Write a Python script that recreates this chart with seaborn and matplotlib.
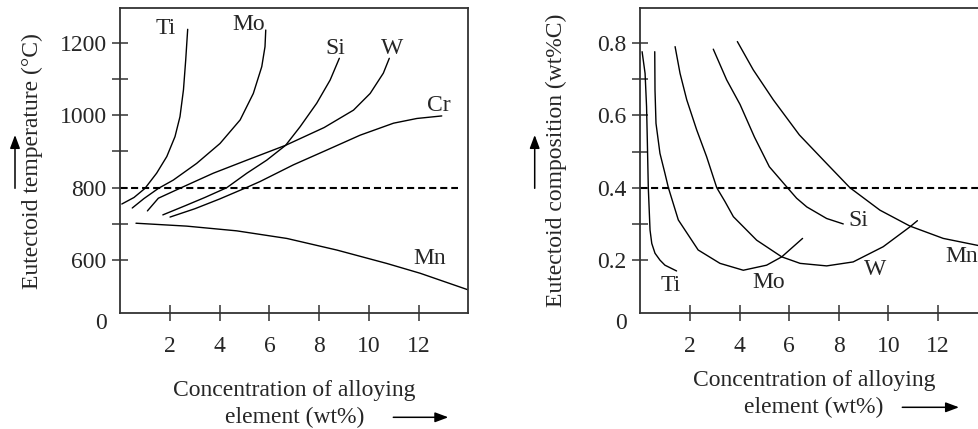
import matplotlib
matplotlib.use("Agg")
import matplotlib.pyplot as plt
import pandas as pd
import seaborn as sns

# ---- left panel: eutectoid temperature (deg C) vs alloy content (wt%) ----
temp_ti_x = [0.06, 0.55, 0.99, 1.46, 1.87, 2.20, 2.40, 2.54, 2.63, 2.71]
temp_ti_y = [755, 773, 798, 840, 886, 941, 996, 1070, 1152, 1237]
temp_mo_x = [0.48, 0.95, 1.53, 2.13, 3.07, 4.01, 4.82, 5.35, 5.69, 5.82, 5.85]
temp_mo_y = [744, 770, 798, 821, 867, 922, 987, 1060, 1134, 1189, 1235]
temp_w_x = [1.09, 1.53, 2.45, 3.74, 5.09, 6.65, 8.2, 9.38, 10.05, 10.58, 10.82]
temp_w_y = [736, 771, 800, 840, 876, 917, 966, 1014, 1060, 1116, 1157]
temp_si_x = [1.71, 2.6, 3.4, 4.28, 5.09, 5.89, 6.65, 7.23, 7.90, 8.44, 8.81]
temp_si_y = [725, 750, 773, 800, 840, 876, 917, 968, 1033, 1097, 1157]
temp_cr_x = [2.0, 3.0, 4.0, 5.06, 5.62, 6.96, 8.31, 9.65, 10.99, 11.93, 12.93]
temp_cr_y = [719, 742, 769, 800, 817, 863, 904, 945, 978, 991, 998]
temp_mn_x = [0.63, 2.67, 4.68, 6.70, 8.71, 10.72, 12.06, 14.0]
temp_mn_y = [702, 694, 681, 660, 628, 591, 564, 518]

# ---- right panel: eutectoid carbon content (wt% C) vs alloy content ----
comp_ti_x = [0.07, 0.19, 0.25, 0.28, 0.32, 0.39, 0.46, 0.59, 0.79, 0.99, 1.46]
comp_ti_y = [0.776, 0.716, 0.624, 0.532, 0.40, 0.283, 0.246, 0.219, 0.200, 0.186, 0.170]
comp_mo_x = [0.58, 0.59, 0.63, 0.79, 0.99, 1.13, 1.53, 2.33, 3.21, 4.15, 5.09, 5.70, 6.54]
comp_mo_y = [0.776, 0.670, 0.578, 0.495, 0.44, 0.40, 0.311, 0.228, 0.191, 0.172, 0.186, 0.209, 0.26]
comp_w_x = [1.40, 1.60, 1.87, 2.27, 2.67, 3.08, 3.41, 3.75, 4.69, 5.70, 6.44, 7.51, 8.58, 9.79, 10.87, 11.17]
comp_w_y = [0.79, 0.716, 0.643, 0.56, 0.486, 0.40, 0.362, 0.32, 0.255, 0.209, 0.191, 0.184, 0.195, 0.237, 0.292, 0.309]
comp_si_x = [2.94, 3.48, 4.02, 4.6, 5.2, 5.93, 6.30, 6.71, 7.51, 8.18]
comp_si_y = [0.783, 0.698, 0.63, 0.54, 0.458, 0.40, 0.371, 0.347, 0.315, 0.30]
comp_mn_x = [3.91, 4.55, 5.36, 6.41, 7.51, 8.45, 9.66, 10.87, 12.21, 13.65, 14.0]
comp_mn_y = [0.804, 0.726, 0.643, 0.546, 0.467, 0.40, 0.338, 0.294, 0.26, 0.24, 0.236]

# curve labels (x, y)
temp_labels = {"Ti": (1.83, 1240), "Mo": (5.18, 1249), "Si": (8.64, 1183),
               "W": (10.92, 1185), "Cr": (12.83, 1028), "Mn": (12.44, 606)}
comp_labels = {"Ti": (1.24, 0.131), "Mo": (5.18, 0.138), "W": (9.46, 0.174),
               "Si": (8.37, 0.309), "Mn": (12.3, 0.209)}

temp_yticks = [600, 700, 800, 900, 1000, 1100, 1200]
temp_yticklabels = ["600", "", "800", "", "1000", "", "1200"]
comp_yticks = [0.2, 0.3, 0.4, 0.5, 0.6, 0.7, 0.8]
comp_yticklabels = ["0.2", "", "0.4", "", "0.6", "", "0.8"]
xticks = [2, 4, 6, 8, 10, 12]


def long_form(curves):
    parts = []
    for name, (xs, ys) in curves.items():
        parts.append(pd.DataFrame({"alloy": name, "conc": xs, "value": ys}))
    return pd.concat(parts, ignore_index=True)


df_temp = long_form({"Ti": (temp_ti_x, temp_ti_y), "Mo": (temp_mo_x, temp_mo_y),
                     "W": (temp_w_x, temp_w_y), "Si": (temp_si_x, temp_si_y),
                     "Cr": (temp_cr_x, temp_cr_y), "Mn": (temp_mn_x, temp_mn_y)})
df_comp = long_form({"Ti": (comp_ti_x, comp_ti_y), "Mo": (comp_mo_x, comp_mo_y),
                     "W": (comp_w_x, comp_w_y), "Si": (comp_si_x, comp_si_y),
                     "Mn": (comp_mn_x, comp_mn_y)})

sns.set_style("white")
plt.rcParams["font.family"] = ["Liberation Serif", "DejaVu Serif"]
plt.rcParams["font.size"] = 17

fig = plt.figure(figsize=(9.79, 4.29), dpi=100)
ax1 = fig.add_axes([0.1229, 0.2697, 0.3555, 0.711])
ax2 = fig.add_axes([0.6541, 0.2697, 0.3547, 0.711])

panels = [
    (ax1, df_temp, (453.5, 1295), temp_yticks, temp_yticklabels, 800, 13.6 / 14,
     temp_labels, "Eutectoid temperature (°C)", -0.221, -0.219),
    (ax2, df_comp, (0.053, 0.896), comp_yticks, comp_yticklabels, 0.4, 1.0,
     comp_labels, "Eutectoid composition (wt%C)", -0.2105, -0.186),
]

for ax, df, ylim, yt, ytl, dash_y, dash_end, labels, ylabel, ylx, xly in panels:
    sns.lineplot(data=df, x="conc", y="value", units="alloy", estimator=None,
                 sort=False, color="black", linewidth=1.0, legend=False, ax=ax)
    ax.axhline(dash_y, xmin=0, xmax=dash_end, color="black", lw=1.5,
               ls=(0, (3.4, 1.9)))
    ax.set_xlim(0, 14)
    ax.set_ylim(*ylim)
    # broken axis: the bottom edge is labelled 0
    ax.set_yticks([ylim[0]] + yt)
    ax.set_yticklabels(["0"] + ytl)
    ax.set_xticks(xticks)
    ax.set_xticklabels([str(t) for t in xticks])
    ax.tick_params(axis="both", direction="inout", length=12, width=1.1,
                   color="#333333", labelsize=17, bottom=True, left=True)
    ax.tick_params(axis="y", pad=3.8)
    ax.tick_params(axis="x", pad=10.5)
    ax.yaxis.get_major_ticks()[0].tick1line.set_visible(False)
    ax.get_yticklabels()[0].set_va("top")
    for s in ax.spines.values():
        s.set_linewidth(1.3)
        s.set_color("#333333")
    for name, (lx, ly) in labels.items():
        ha = "left" if (ax is ax2 and name in ("Si", "Mn")) else "center"
        ax.text(lx, ly, name, ha=ha, va="center", fontsize=17)
    ax.set_ylabel(ylabel, fontsize=17)
    ax.yaxis.set_label_coords(ylx, 0.5)
    ax.set_xlabel("Concentration of alloying\nelement (wt%)", fontsize=17,
                  linespacing=1.35)
    ax.xaxis.set_label_coords(0.5, xly)

# the direction arrows next to the axis titles
arrow = dict(arrowstyle="-|>,head_length=0.8,head_width=0.3", color="black",
             lw=1.1, shrinkA=0, shrinkB=0, mutation_scale=10)
W, H = 979.0, 429.0
for (x0, y0, x1, y1) in [(393.3, 417.3, 448.3, 417.3), (902.3, 407.3, 959.0, 407.3),
                         (15.0, 188.3, 15.0, 135.0), (534.7, 188.3, 534.7, 135.0)]:
    fig.add_artist(matplotlib.patches.FancyArrowPatch(
        (x0 / W, 1 - y0 / H), (x1 / W, 1 - y1 / H),
        transform=fig.transFigure, **arrow))

fig.savefig("out.png", dpi=100)
